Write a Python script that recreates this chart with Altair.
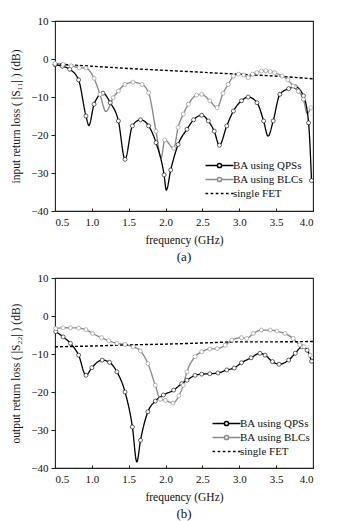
import altair as alt
import pandas as pd

SER = ["BA using QPSs", "BA using BLCs", "single FET"]

# ---------- panel (a): input return loss |S11| ----------
qa_f = [0.50, 0.60, 0.70, 0.82, 0.92, 1.03, 1.15, 1.25, 1.36, 1.45, 1.55, 1.66, 1.77, 1.87, 1.98,
        2.07, 2.17, 2.29, 2.38, 2.49, 2.58, 2.66, 2.73, 2.83, 2.92, 3.03, 3.12, 3.24, 3.33, 3.46,
        3.55, 3.67, 3.76, 3.87, 3.94, 3.98]
qa_db = [-1.5, -1.9, -2.7, -5.5, -15.0, -11.9, -9.0, -11.5, -16.3, -26.4, -17.6, -16.0, -17.6, -22.0, -30.5,
         -29.2, -22.5, -18.5, -16.0, -14.8, -16.3, -19.0, -22.7, -17.6, -13.7, -11.0, -10.0, -11.5, -16.3, -16.3,
         -9.3, -7.8, -7.3, -9.7, -16.8, -32.0]
qa_dip_f = [0.96, 2.01, 3.39]
qa_dip_db = [-17.5, -34.5, -20.3]

ba_f = [0.50, 0.61, 0.72, 0.83, 0.92, 1.03, 1.11, 1.29, 1.36, 1.45, 1.56, 1.68, 1.77, 1.87, 1.99,
        2.11, 2.17, 2.24, 2.31, 2.42, 2.49, 2.60, 2.70, 2.78, 2.85, 2.92, 2.99, 3.06, 3.12, 3.18,
        3.24, 3.30, 3.36, 3.42, 3.48, 3.58, 3.66, 3.73, 3.80, 3.87, 3.97]
ba_db = [-1.2, -1.4, -1.8, -2.3, -2.4, -5.1, -9.3, -10.2, -8.4, -6.7, -6.1, -6.7, -8.9, -19.0, -21.3,
         -23.5, -18.0, -14.5, -11.9, -9.5, -9.3, -11.0, -12.8, -9.0, -6.7, -4.5, -4.0, -4.2, -4.9, -4.0,
         -3.6, -3.2, -3.1, -3.3, -3.6, -4.5, -5.5, -7.1, -8.5, -10.6, -12.8]
ba_dip_f = [1.19, 1.94, 3.92]
ba_dip_db = [-13.8, -26.0, -14.3]

fa_f = [0.5, 1.0, 1.5, 2.0, 2.5, 3.0, 3.5, 4.0]
fa_db = [-1.3, -1.9, -2.5, -3.0, -3.5, -4.0, -4.5, -5.2]

# ---------- panel (b): output return loss |S22| ----------
qb_f = [0.51, 0.61, 0.71, 0.82, 0.92, 1.00, 1.14, 1.24, 1.34, 1.45, 1.55, 1.66, 1.76, 1.86, 1.97,
        2.11, 2.22, 2.29, 2.40, 2.49, 2.60, 2.71, 2.83, 2.93, 3.03, 3.16, 3.28, 3.35, 3.45, 3.54,
        3.67, 3.76, 3.85, 3.92, 3.98]
qb_db = [-4.1, -5.5, -7.2, -10.3, -15.6, -13.6, -11.6, -12.2, -14.7, -20.0, -29.2, -32.7, -25.2, -22.4, -20.8,
         -19.5, -17.8, -16.9, -15.6, -15.3, -15.2, -15.0, -14.2, -13.7, -12.3, -11.0, -9.8, -10.3, -12.0, -12.7,
         -11.6, -9.8, -8.1, -9.0, -11.9]
qb_dip_f = [1.61]
qb_dip_db = [-38.4]

bb_f = [0.51, 0.61, 0.71, 0.82, 0.92, 1.01, 1.13, 1.23, 1.34, 1.45, 1.56, 1.66, 1.76, 1.86, 1.93,
        2.00, 2.10, 2.18, 2.24, 2.29, 2.40, 2.49, 2.60, 2.70, 2.81, 2.90, 3.03, 3.10, 3.19, 3.30,
        3.42, 3.51, 3.62, 3.73, 3.82, 3.88, 3.96]
bb_db = [-3.3, -3.1, -3.1, -3.2, -3.6, -4.6, -5.7, -6.5, -7.2, -7.5, -8.1, -9.2, -12.5, -18.2, -21.9,
         -22.2, -22.9, -21.0, -18.2, -14.7, -10.7, -9.4, -8.7, -8.6, -7.7, -6.3, -5.7, -5.9, -4.6, -3.7,
         -3.7, -4.0, -4.6, -5.9, -7.6, -8.1, -10.3]
bb_dip_f = []
bb_dip_db = []

fb_f = [0.5, 1.0, 1.5, 2.0, 2.5, 3.0, 3.5, 4.0]
fb_db = [-8.1, -7.9, -7.6, -7.4, -7.1, -6.8, -6.8, -6.7]

x_ticks = [0.5, 1.0, 1.5, 2.0, 2.5, 3.0, 3.5, 4.0]
y_ticks = [-40, -30, -20, -10, 0, 10]

FONT = "Liberation Serif"

# legend symbol paths (line with open circle / dashed line)
P_CIRC = ("M-3,0L-0.45,0M0.45,0L3,0"
          "M-0.45,0A0.45,0.45 0 1,0 0.45,0A0.45,0.45 0 1,0 -0.45,0Z")
P_DASH = "M-3,0L-2.45,0M-1.9,0L-1.35,0M-0.8,0L-0.25,0M0.3,0L0.85,0M1.4,0L1.95,0M2.5,0L3,0"

# style scales use the reversed series order so that their (hidden) legends
# are not merged with the visible colour/shape legend
SER_R = SER[::-1]


def df(f, db, name):
    return pd.DataFrame({"f": f, "db": db, "series": name})


def panel(qf, qd, qdf, qdd, bf, bd, bdf, bdd, ff, fd, ytitle, caption, lx, ly):
    markers = pd.concat([df(qf, qd, SER[0]), df(bf, bd, SER[1])], ignore_index=True)
    lines = pd.concat([df(qf + qdf, qd + qdd, SER[0]),
                       df(bf + bdf, bd + bdd, SER[1]),
                       df(ff, fd, SER[2])], ignore_index=True).sort_values(["series", "f"])

    x = alt.X("f:Q", scale=alt.Scale(domain=[0.5, 4.0], nice=False, zero=False),
              axis=alt.Axis(values=x_ticks, format=".1f", title="frequency (GHz)",
                            offset=-3, tickSize=3, labelPadding=5, titlePadding=7, domain=False))
    y = alt.Y("db:Q", scale=alt.Scale(domain=[-40, 10], nice=False, zero=False),
              axis=alt.Axis(values=y_ticks, format="d", title=ytitle, tickSize=4,
                            labelPadding=3, titlePadding=9, domain=False))

    stroke_scale = alt.Scale(domain=SER_R, range=["#000000", "#8a8a8a", "#000000"])

    line = alt.Chart(lines).mark_line(interpolate="monotone").encode(
        x=x, y=y,
        stroke=alt.Stroke("series:N", scale=stroke_scale, legend=None),
        strokeDash=alt.StrokeDash("series:N", scale=alt.Scale(domain=SER_R, range=[[3, 2], [1, 0], [1, 0]]), legend=None),
        strokeWidth=alt.StrokeWidth("series:N", scale=alt.Scale(domain=SER_R, range=[1.4, 1.3, 1.8]), legend=None),
        detail="series:N",
    )
    pts = alt.Chart(markers).mark_point(shape="circle", filled=True, fill="white", size=16,
                                         strokeWidth=0.8, strokeOpacity=0.75, opacity=1).encode(
        x=x, y=y,
        stroke=alt.Stroke("series:N", scale=stroke_scale, legend=None),
    )
    leg = alt.Legend(title=None, orient="none", legendX=lx, legendY=ly, symbolSize=87,
                     symbolStrokeWidth=1.5, symbolOpacity=1, labelOffset=8, rowPadding=2,
                     labelFont=FONT, labelFontSize=11, labelColor="#111", padding=0)
    carrier = alt.Chart(lines).mark_point(size=0, filled=False).encode(
        x=x, y=y,
        color=alt.Color("series:N", scale=alt.Scale(domain=SER, range=["#000000", "#8a8a8a", "#000000"]), legend=leg),
        shape=alt.Shape("series:N", scale=alt.Scale(domain=SER, range=[P_CIRC, P_CIRC, P_DASH]), legend=leg),
    )
    return alt.layer(line, pts, carrier).properties(
        width=258, height=190,
        title=alt.TitleParams(caption, orient="bottom", font=FONT, fontSize=13,
                              fontWeight="normal", offset=5, color="#111"),
    )


pa = panel(qa_f, qa_db, qa_dip_f, qa_dip_db, ba_f, ba_db, ba_dip_f, ba_dip_db, fa_f, fa_db,
           "input return loss ( |S₁₁| ) (dB)", "(a)", 159, 139)
pb = panel(qb_f, qb_db, qb_dip_f, qb_dip_db, bb_f, bb_db, bb_dip_f, bb_dip_db, fb_f, fb_db,
           "output return loss ( |S₂₂| ) (dB)", "(b)", 166, 140)

chart = alt.vconcat(pa, pb, spacing=6).resolve_scale(
    color="independent", shape="independent", stroke="independent",
    strokeDash="independent", strokeWidth="independent"
).resolve_legend(color="independent", shape="independent").properties(
    padding={"left": 10, "top": 14, "right": 5, "bottom": 0}, background="white"
).configure_view(stroke="#222", strokeWidth=1.1).configure_axis(
    labelFont=FONT, titleFont=FONT, labelFontSize=11, titleFontSize=11.5,
    labelColor="#111", titleColor="#111", titleFontWeight="normal", grid=False,
    tickColor="#222"
)

chart.save("out.html", embed_options={"renderer": "svg", "actions": False})
